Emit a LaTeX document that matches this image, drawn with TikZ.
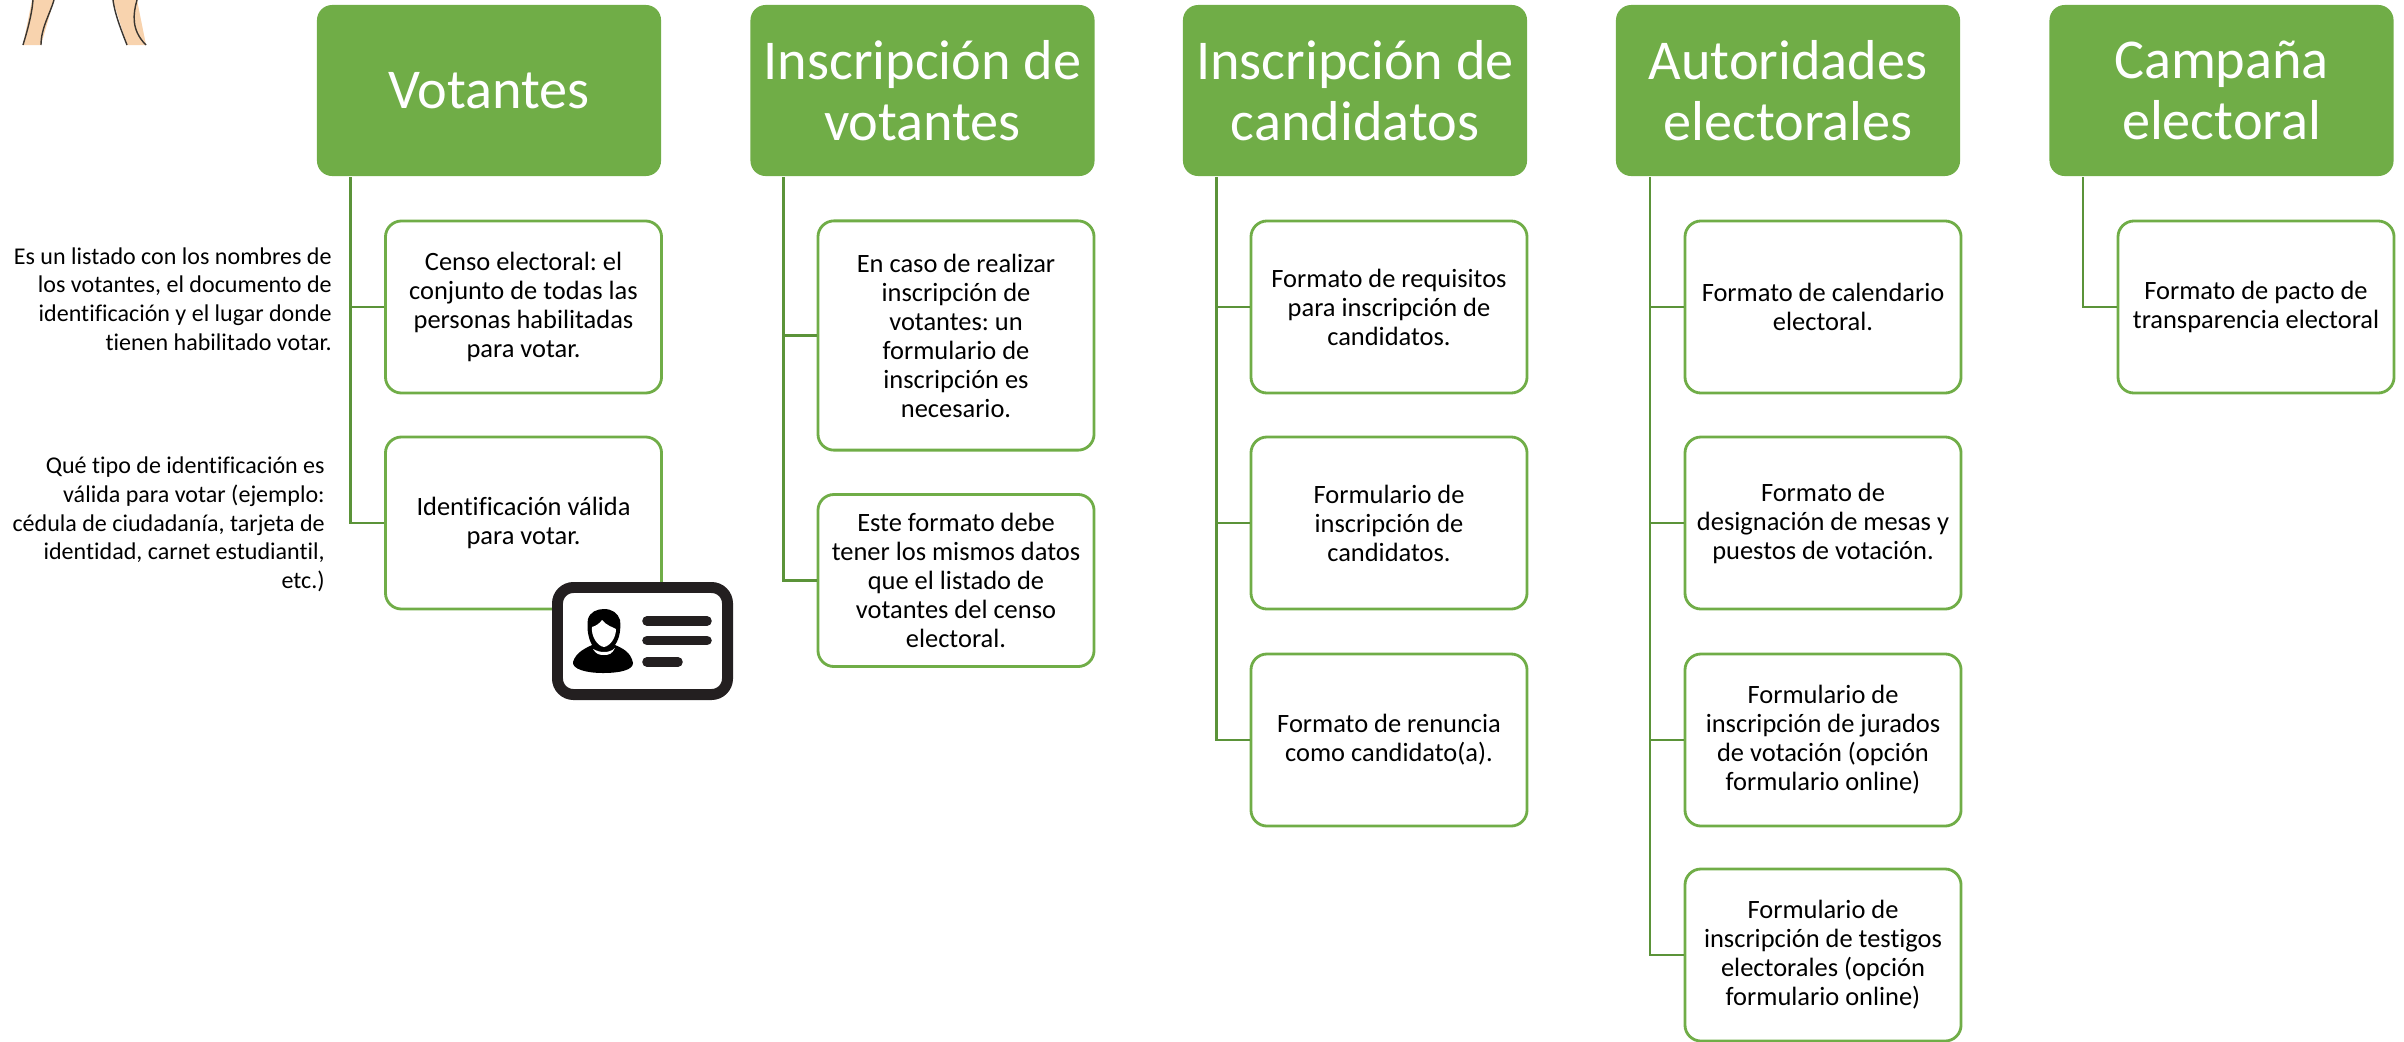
\documentclass[tikz,border=0pt]{standalone}
\usepackage{fontspec}
\setmainfont{Carlito}[Ligatures=NoCommon]
\frenchspacing
\usepackage{tikz}
\definecolor{elecgreen}{HTML}{70AD47}
\definecolor{elecdark}{HTML}{5B9339}
\definecolor{elecink}{HTML}{231F20}
\definecolor{elecskin}{HTML}{F8D3AE}
\definecolor{eleclegs}{HTML}{3A3530}

\begin{document}
\begin{tikzpicture}[
        x=0.025cm, y=-0.025cm,
        head/.style={
          fill=elecgreen, text=white,
          rounded corners=0.38cm,
          minimum width=8.6cm, minimum height=4.275cm, align=center,
          font=\fontsize{40}{43}\selectfont,
        },
        sub/.style={
          draw=elecgreen, line width=2pt,
          fill=white, text=black,
          rounded corners=0.4cm,
          minimum width=6.9cm, minimum height=4.3cm, align=center,
          font=\fontsize{18.8}{20.6}\selectfont,
        },
        subtall/.style={sub, minimum height=5.73cm},
        note/.style={
          anchor=east, align=right, text=black, inner sep=0pt,
          font=\fontsize{17.1}{20.4}\selectfont,
        },
        arr/.style={draw=elecdark, line width=1.8pt},
        carnet/.style={
          draw=elecink, line width=7.8pt,
          fill=white,
          rounded corners=0.4cm,
          minimum width=4.25cm, minimum height=2.675cm,
        },
      ]
      \useasboundingbox (0,0) rectangle (2404,1041);

      % legs cut by the top edge
      \fill[elecskin] (32,0) -- (23,45) -- (41,45) -- (54,0) -- cycle;
      \fill[elecskin] (113,0) -- (127,45) -- (146,45) -- (137,0) -- cycle;
      \draw[eleclegs, line width=1pt] (33,0) .. controls (32,14) and (27,32) .. (23,45);
      \draw[eleclegs, line width=1pt] (54,0) .. controls (50,14) and (41,28) .. (41,45);
      \draw[eleclegs, line width=1pt] (113,0) .. controls (115,15) and (122,32) .. (127,45);
      \draw[eleclegs, line width=1pt] (137,0) .. controls (133,14) and (131,30) .. (146,45);

      \node[head] (h1) at (489,90.5)    {Votantes};
      \node[head] (h2) at (922.5,90.5)  {Inscripción de\\votantes};
      \node[head] (h3) at (1355,90.5)   {Inscripción de\\candidatos};
      \node[head] (h4) at (1788,90.5)   {Autoridades\\electorales};
      \node[head] (h5) at (2221.5,90.5) {Campaña\\electoral};

      \coordinate (tr1) at (350.5,177);
      \coordinate (tr2) at (783.5,177);
      \coordinate (tr3) at (1216.5,177);
      \coordinate (tr4) at (1650,177);
      \coordinate (tr5) at (2083,177);

      \node[sub] (c11) at (523.5,307) {Censo electoral: el\\conjunto de todas las\\personas habilitadas\\para votar.};
      \node[sub] (c12) at (523.5,523) {Identificación válida\\para votar.};

      \node[subtall] (c21) at (956,335.5) {En caso de realizar\\inscripción de\\votantes: un\\formulario de\\inscripción es\\necesario.};
      \node[sub] (c22) at (956,580.5) {Este formato debe\\tener los mismos datos\\que el listado de\\votantes del censo\\electoral.};

      \node[sub] (c31) at (1389,307) {Formato de requisitos\\para inscripción de\\candidatos.};
      \node[sub] (c32) at (1389,523) {Formulario de\\inscripción de\\candidatos.};
      \node[sub] (c33) at (1389,740) {Formato de renuncia\\como candidato(a).};

      \node[sub] (c41) at (1823,307) {Formato de calendario\\electoral.};
      \node[sub] (c42) at (1823,523) {Formato de\\designación de mesas y\\puestos de votación.};
      \node[sub] (c43) at (1823,740) {Formulario de\\inscripción de jurados\\de votación (opción\\formulario online)};
      \node[sub] (c44) at (1823,955) {Formulario de\\inscripción de testigos\\electorales (opción\\formulario online)};

      \node[sub] (c51) at (2256,307) {Formato de pacto de\\transparencia electoral};

      \draw[arr] (tr1) |- (c11.west);
      \draw[arr] (tr1) |- (c12.west);
      \draw[arr] (tr2) |- (c21.west);
      \draw[arr] (tr2) |- (c22.west);
      \draw[arr] (tr3) |- (c31.west);
      \draw[arr] (tr3) |- (c32.west);
      \draw[arr] (tr3) |- (c33.west);
      \draw[arr] (tr4) |- (c41.west);
      \draw[arr] (tr4) |- (c42.west);
      \draw[arr] (tr4) |- (c43.west);
      \draw[arr] (tr4) |- (c44.west);
      \draw[arr] (tr5) |- (c51.west);

      \node[note] (n1) at (332,299) {Es un listado con los nombres de\\los votantes, el documento de\\identificación y el lugar donde\\tienen habilitado votar.};
      \node[note] (n2) at (325,524.5) {Qué tipo de identificación es\\válida para votar (ejemplo:\\cédula de ciudadanía, tarjeta de\\identidad, carnet estudiantil,\\etc.)};

      % id card with portrait and text bars
      \node[carnet] (card) at (642.5,641) {};
      \fill[black] (573,662) .. controls (576,652) and (586,648) .. (592,645)
        .. controls (587,636) and (587,625) .. (588,619)
        .. controls (590,612) and (597,609) .. (604,609)
        .. controls (612,609) and (618,613) .. (620,620)
        .. controls (621,628) and (620,638) .. (615,645)
        .. controls (622,648) and (631,652) .. (633,663)
        .. controls (633,670) and (620,673) .. (603,673)
        .. controls (586,673) and (572,669) .. (573,662) -- cycle;
      \fill[white] (592,627) .. controls (596,626) and (600,623) .. (602,620)
        .. controls (606,625) and (612,627) .. (616,629)
        .. controls (616,638) and (610,646) .. (604,647)
        .. controls (597,646) and (591,636) .. (592,627) -- cycle;
      \fill[white] (593,649) .. controls (597,651) and (600,652) .. (604,652)
        .. controls (608,652) and (612,651) .. (615,648)
        .. controls (612,654) and (609,655) .. (604,655)
        .. controls (599,655) and (596,654) .. (593,649) -- cycle;
      \draw[elecink, line width=6.8pt, line cap=round] (647,621) -- (707,621);
      \draw[elecink, line width=6.8pt, line cap=round] (647,640.5) -- (707,640.5);
      \draw[elecink, line width=6.8pt, line cap=round] (647,662) -- (678,662);
    \end{tikzpicture}
\end{document}
